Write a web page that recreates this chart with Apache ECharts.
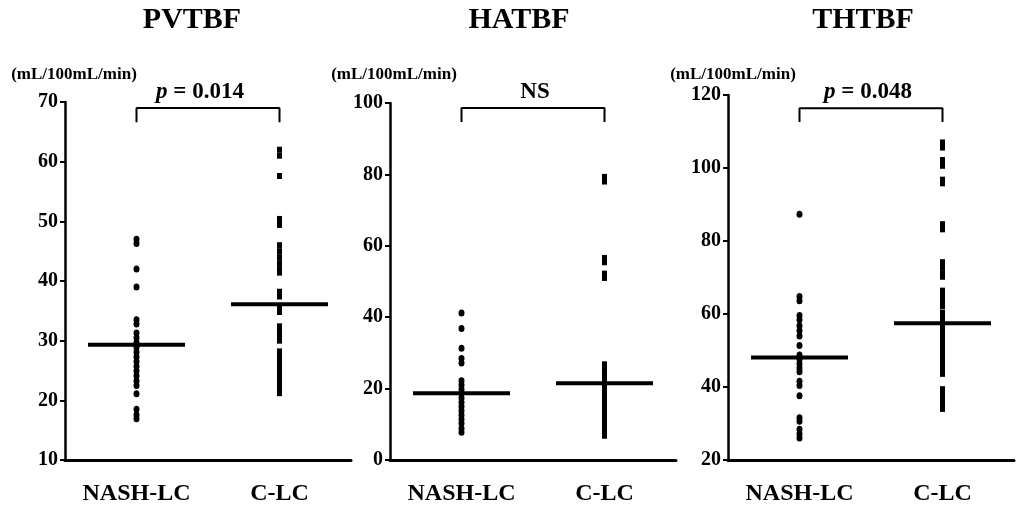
<!DOCTYPE html>
<html>
<head>
<meta charset="utf-8">
<script src="https://cdn.jsdelivr.net/npm/echarts@6/dist/echarts.min.js"></script>
<style>
  html, body { margin: 0; padding: 0; background: #fff; }
  #main { width: 1024px; height: 514px; }
</style>
</head>
<body>
<div id="main"></div>
<script>
// groups on the x axis
const groups = ['NASH-LC', 'C-LC'];
const titles = ['PVTBF', 'HATBF', 'THTBF'];
const unitLabel = '(mL/100mL/min)';
const pLabels = ['0.014', 'NS', '0.048'];

// y axis ranges per panel
const yMin = [10, 0, 20];
const yMax = [70, 100, 120];
const yStep = [10, 20, 20];

// PVTBF values
const pvNash = [47.0, 46.3, 42.0, 39.0, 33.5, 32.8, 31.3, 30.5, 29.7, 28.9, 28.1, 27.3,
  26.5, 25.7, 24.9, 24.1, 23.3, 22.5, 21.1, 18.5, 17.6, 16.9];
const pvC = [62.0, 61.0, 57.6, 50.4, 49.4, 46.0, 45.0, 44.0, 43.0, 42.0, 41.4, 38.2, 37.4,
  35.6, 34.8, 32.4, 31.6, 30.8, 30.0, 28.2, 27.4, 26.6, 25.8, 25.0, 24.2, 23.4, 22.6, 21.8, 21.2];

// HATBF values
const haNash = [41.2, 36.8, 31.3, 28.4, 27.2, 22.2, 21.0, 19.8, 18.6, 17.4, 16.2, 15.0,
  13.8, 12.6, 11.4, 10.3, 8.8, 7.8];
const haC = [79.3, 78.0, 56.6, 55.4, 52.2, 51.0, 26.8, 25.6, 24.2, 22.9, 21.6, 20.3, 19.0,
  17.7, 16.4, 15.1, 13.8, 12.5, 11.2, 9.6, 8.2, 6.8];

// THTBF values
const thNash = [87.3, 64.8, 63.6, 59.6, 58.4, 56.8, 55.4, 54.0, 51.4, 48.8, 47.6, 46.4,
  45.2, 44.2, 41.6, 40.4, 37.6, 31.6, 30.6, 28.4, 27.2, 26.0];
const thC = [107.0, 105.6, 102.2, 100.6, 96.8, 95.8, 84.6, 83.2, 74.2, 72.8, 71.2, 70.2,
  66.4, 65.0, 63.6, 62.2, 60.4, 59.0, 57.6, 56.2, 54.8, 53.4, 52.0, 50.6, 49.2, 47.8, 46.4,
  45.0, 43.6, 39.4, 38.0, 36.6, 35.2, 34.0];

// medians [NASH-LC, C-LC]
const medians = [[29.3, 36.1], [18.7, 21.5], [48.1, 57.5]];

// significance bracket: [leg bottom, top]
const brackets = [[66.6, 69.0], [94.7, 98.6], [112.6, 116.4]];

const nashData = [pvNash, haNash, thNash];
const cData = [pvC, haC, thC];

const FONT = "'Liberation Serif', 'Times New Roman', serif";

// layout per panel
const gridLeft = [65, 390, 728];
const gridTop = [102, 103, 95];
const titleX = [192, 519, 863];
const unitX = [74, 394, 733];
const pX = [200, 535, 868];

const chart = echarts.init(document.getElementById('main'));

const grids = [], xAxes = [], yAxes = [], series = [], graphics = [];
const ink = { color: '#000', opacity: 1 };

for (let i = 0; i < 3; i++) {
  grids.push({ left: gridLeft[i], top: gridTop[i], width: 286, bottom: 54 });

  xAxes.push({
    type: 'category',
    gridIndex: i,
    data: groups,
    axisLine: { lineStyle: { color: '#000', width: 3 } },
    axisTick: { alignWithLabel: true, length: 10, lineStyle: { color: '#000', width: 2 } },
    axisLabel: { color: '#000', fontFamily: FONT, fontWeight: 'bold', fontSize: 24, margin: 22 },
    splitLine: { show: false }
  });

  yAxes.push({
    type: 'value',
    gridIndex: i,
    min: yMin[i],
    max: yMax[i],
    interval: yStep[i],
    axisLine: { show: true, lineStyle: { color: '#000', width: 2.5 } },
    axisTick: { show: true, length: 5, lineStyle: { color: '#000', width: 2 } },
    axisLabel: { color: '#000', fontFamily: FONT, fontWeight: 'bold', fontSize: 20, margin: 7 },
    splitLine: { show: false }
  });

  series.push({
    type: 'scatter',
    xAxisIndex: i, yAxisIndex: i,
    symbol: 'circle',
    symbolSize: [6, 7],
    itemStyle: ink,
    data: nashData[i].map(v => [0, v]),
    silent: true
  });
  series.push({
    type: 'scatter',
    xAxisIndex: i, yAxisIndex: i,
    symbol: 'rect',
    symbolSize: [5, 6],
    itemStyle: ink,
    data: cData[i].map(v => [1, v]),
    silent: true
  });
  series.push({
    type: 'scatter',
    xAxisIndex: i, yAxisIndex: i,
    symbol: 'rect',
    symbolSize: [97, 4],
    itemStyle: ink,
    data: medians[i].map((v, k) => [k, v]),
    z: 3,
    silent: true
  });
  const b = brackets[i];
  series.push({
    type: 'line',
    xAxisIndex: i, yAxisIndex: i,
    symbol: 'none',
    lineStyle: { color: '#000', width: 2 },
    data: [[0, b[0]], [0, b[1]], [1, b[1]], [1, b[0]]],
    silent: true
  });

  graphics.push({
    type: 'text', x: titleX[i], y: 20,
    style: { text: titles[i], fill: '#000', font: 'bold 30px ' + FONT, textAlign: 'center', textVerticalAlign: 'middle' }
  });
  graphics.push({
    type: 'text', x: unitX[i], y: 75,
    style: { text: unitLabel, fill: '#000', font: 'bold 17px ' + FONT, textAlign: 'center', textVerticalAlign: 'middle' }
  });
  const ptext = pLabels[i] === 'NS' ? '{n|NS}' : '{i|p}{n| = ' + pLabels[i] + '}';
  graphics.push({
    type: 'text', x: pX[i], y: 92,
    style: {
      text: ptext,
      textAlign: 'center',
      textVerticalAlign: 'middle',
      rich: {
        i: { fontFamily: FONT, fontWeight: 'bold', fontStyle: 'italic', fontSize: 23, fill: '#000' },
        n: { fontFamily: FONT, fontWeight: 'bold', fontSize: 23, fill: '#000' }
      }
    }
  });
}

chart.setOption({
  animation: false,
  backgroundColor: '#fff',
  grid: grids,
  xAxis: xAxes,
  yAxis: yAxes,
  series: series,
  graphic: graphics
});
</script>
</body>
</html>
